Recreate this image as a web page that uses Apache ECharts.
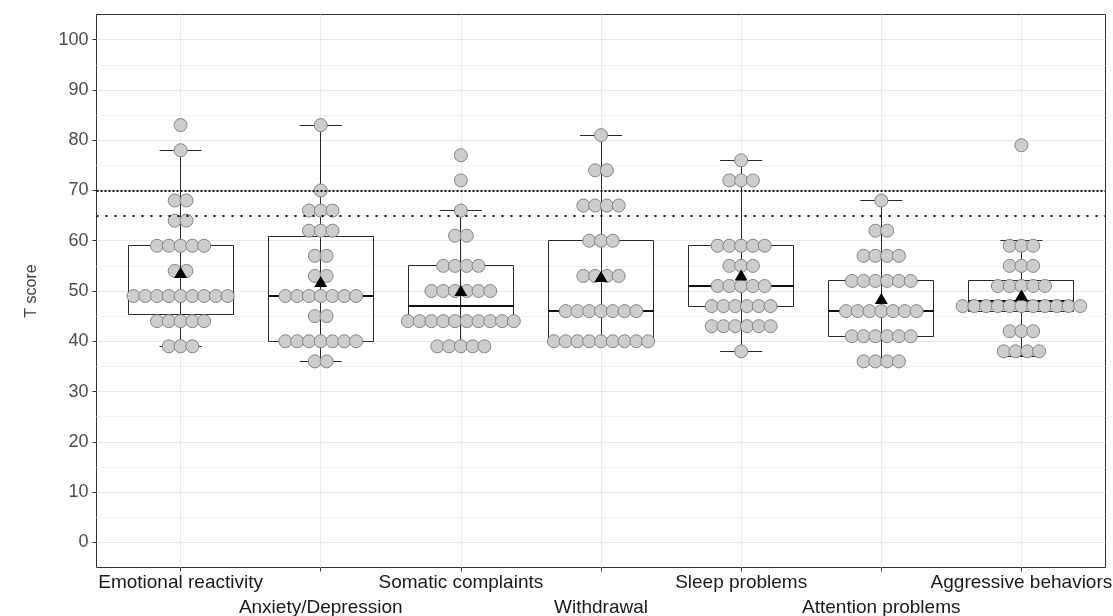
<!DOCTYPE html>
<html>
<head>
<meta charset="utf-8">
<script src="https://cdn.jsdelivr.net/npm/echarts@6/dist/echarts.min.js"></script>
<style>
  html, body { margin: 0; padding: 0; background: #fff; }
  #chart { width: 1113px; height: 616px; }
</style>
</head>
<body>
<div id="chart"></div>
<script>
const categories = ['Emotional reactivity', 'Anxiety/Depression', 'Somatic complaints', 'Withdrawal',
  'Sleep problems', 'Attention problems', 'Aggressive behaviors'];

// individual T scores, one list per scale
const emotionalScores = [83, 78, 68, 68, 64, 64, 59, 59, 59, 59, 59, 54, 54,
  49, 49, 49, 49, 49, 49, 49, 49, 49, 44, 44, 44, 44, 44, 39, 39, 39];
const anxietyScores = [83, 70, 66, 66, 66, 62, 62, 62, 57, 57, 53, 53,
  49, 49, 49, 49, 49, 49, 49, 45, 45, 40, 40, 40, 40, 40, 40, 40, 36, 36];
const somaticScores = [77, 72, 66, 61, 61, 55, 55, 55, 55, 50, 50, 50, 50, 50, 50,
  44, 44, 44, 44, 44, 44, 44, 44, 44, 44, 39, 39, 39, 39, 39];
const withdrawalScores = [81, 74, 74, 67, 67, 67, 67, 60, 60, 60, 53, 53, 53, 53,
  46, 46, 46, 46, 46, 46, 46, 40, 40, 40, 40, 40, 40, 40, 40, 40];
const sleepScores = [76, 72, 72, 72, 59, 59, 59, 59, 59, 55, 55, 55, 51, 51, 51, 51, 51,
  47, 47, 47, 47, 47, 47, 43, 43, 43, 43, 43, 43, 38];
const attentionScores = [68, 62, 62, 57, 57, 57, 57, 52, 52, 52, 52, 52, 52,
  46, 46, 46, 46, 46, 46, 46, 41, 41, 41, 41, 41, 41, 36, 36, 36, 36];
const aggressiveScores = [79, 59, 59, 59, 55, 55, 55, 51, 51, 51, 51, 51,
  47, 47, 47, 47, 47, 47, 47, 47, 47, 47, 47, 42, 42, 42, 38, 38, 38, 38];

// box plot: [lower whisker, Q1, median, Q3, upper whisker]
const boxStats = [
  [39, 45.25, 49, 59, 78],
  [36, 40, 49, 60.75, 83],
  [39, 44, 47, 55, 66],
  [40, 40, 46, 60, 81],
  [38, 47, 51, 59, 76],
  [36, 41, 46, 52, 68],
  [37, 46, 48, 52, 60]
];
const meanScores = [53.7, 51.9, 50.1, 52.9, 53.2, 48.5, 49.2];
const yTicks = [0, 10, 20, 30, 40, 50, 60, 70, 80, 90, 100];
const cutoffs = [70, 65];

const allScores = [emotionalScores, anxietyScores, somaticScores, withdrawalScores,
  sleepScores, attentionScores, aggressiveScores];

// centred dot stacks: equal scores sit side by side
const dotStep = 0.084;
const dotPoints = [];
allScores.forEach((scores, i) => {
  const counts = {};
  scores.forEach(v => { counts[v] = (counts[v] || 0) + 1; });
  Object.keys(counts).forEach(key => {
    const n = counts[key];
    for (let k = 0; k < n; k++) {
      dotPoints.push([i + (k - (n - 1) / 2) * dotStep, Number(key)]);
    }
  });
});

const catIdx = categories.map((_, i) => i);
const evenIdx = catIdx.filter(i => i % 2 === 0);
const oddIdx = catIdx.filter(i => i % 2 === 1);
const fontFamily = '"Liberation Sans", Arial, sans-serif';
// put 1px lines on pixel centres so they stay crisp
const snap = v => Math.round(v - 0.5) + 0.5;

const xLabelStyle = { fontFamily, fontSize: 19, color: '#1a1a1a' };
const noLine = { show: false, onZero: false };

const chart = echarts.init(document.getElementById('chart'));

const option = {
  animation: false,
  backgroundColor: '#fff',
  grid: {
    left: 96.5, right: 7.5, top: 14.5, bottom: 48.5,
    outerBoundsMode: 'none',
    containLabel: false,
    show: true, borderColor: '#333', borderWidth: 1, backgroundColor: '#fff'
  },
  xAxis: [
    {
      // ticks + first row of labels
      type: 'value', min: -0.6, max: 6.6, position: 'bottom',
      axisLine: noLine,
      splitLine: { show: false },
      axisTick: { customValues: catIdx, length: 4, lineStyle: { color: '#333' } },
      axisLabel: Object.assign({
        customValues: evenIdx, showMinLabel: true, showMaxLabel: true,
        formatter: v => categories[Math.round(v)], margin: 6
      }, xLabelStyle)
    },
    {
      // second, staggered row of labels
      type: 'value', min: -0.6, max: 6.6, position: 'bottom',
      axisLine: noLine,
      splitLine: { show: false },
      axisTick: { show: false },
      axisLabel: Object.assign({
        customValues: oddIdx, showMinLabel: true, showMaxLabel: true,
        formatter: v => categories[Math.round(v)], margin: 31
      }, xLabelStyle)
    }
  ],
  yAxis: [
    {
      // grid lines: majors every 10, lighter minors in between
      type: 'value', min: -5, max: 105, interval: 5, position: 'left',
      axisLine: noLine, axisTick: { show: false }, axisLabel: { show: false },
      splitLine: {
        showMinLine: false, showMaxLine: false,
        lineStyle: { color: ['#e8e8e8', '#f4f4f4'], width: 1 }
      }
    },
    {
      type: 'value', min: -5, max: 105, interval: 5, position: 'left',
      name: 'T score', nameLocation: 'middle', nameRotate: 90, nameGap: 57,
      nameTextStyle: { fontFamily, fontSize: 16, color: '#444' },
      axisLine: noLine,
      splitLine: { show: false },
      axisTick: { customValues: yTicks, length: 4, lineStyle: { color: '#333' } },
      axisLabel: { customValues: yTicks, fontFamily, fontSize: 18, color: '#4d4d4d', margin: 8 }
    }
  ],
  series: [
    {
      // vertical grid lines at each scale
      type: 'line', data: [], z: 1, silent: true,
      markLine: {
        z: 1,
        silent: true, symbol: 'none', label: { show: false },
        lineStyle: { color: '#ebebeb', width: 1, type: 'solid' },
        data: catIdx.map(i => ({ xAxis: i }))
      }
    },
    {
      type: 'custom',
      z: 2,
      silent: true,
      data: boxStats.map((b, i) => [i].concat(b)),
      encode: { x: 0, y: [1, 2, 3, 4, 5] },
      renderItem(params, api) {
        const x = api.value(0);
        const lo = api.value(1), q1 = api.value(2), med = api.value(3), q3 = api.value(4), hi = api.value(5);
        const p = (dx, v) => api.coord([x + dx, v]);
        const stroke = { stroke: '#2a2a2a', lineWidth: 1, fill: null };
        const cx = snap(p(0, lo)[0]);
        const hLine = (dx, v, style) => {
          const y = snap(p(0, v)[1]);
          return { type: 'line', shape: { x1: p(-dx, v)[0], y1: y, x2: p(dx, v)[0], y2: y }, style };
        };
        const left = snap(p(-0.375, q3)[0]), right = snap(p(0.375, q3)[0]);
        const top = snap(p(0, q3)[1]), bottom = snap(p(0, q1)[1]);
        const medY = Math.round(p(0, med)[1]);
        return {
          type: 'group',
          children: [
            { type: 'line', shape: { x1: cx, y1: snap(p(0, lo)[1]), x2: cx, y2: snap(p(0, hi)[1]) }, style: stroke },
            hLine(0.15, lo, stroke),
            hLine(0.15, hi, stroke),
            {
              type: 'rect',
              shape: { x: left, y: top, width: right - left, height: bottom - top },
              style: { fill: 'none', stroke: '#2a2a2a', lineWidth: 1 }
            },
            { type: 'line', shape: { x1: left, y1: medY, x2: right, y2: medY }, style: { stroke: '#111', lineWidth: 2 } }
          ]
        };
      }
    },
    {
      type: 'scatter',
      z: 3,
      symbol: 'circle',
      symbolSize: 13,
      itemStyle: { color: '#cdcdcd', borderColor: '#858585', borderWidth: 1, opacity: 1 },
      data: dotPoints
    },
    {
      type: 'scatter',
      z: 4,
      symbol: 'triangle',
      symbolSize: [13, 11],
      itemStyle: { color: '#000', opacity: 1 },
      data: meanScores.map((m, i) => [i, m])
    },
    {
      // cut-off lines
      type: 'line', data: [], z: 5, silent: true,
      markLine: {
        z: 5,
        silent: true, symbol: 'none', label: { show: false },
        lineStyle: { color: '#111', width: 2 },
        data: [
          { yAxis: cutoffs[0], lineStyle: { type: [2, 2] } },
          { yAxis: cutoffs[1], lineStyle: { type: [2, 7] } }
        ]
      }
    }
  ]
};

chart.setOption(option);
window.addEventListener('resize', () => chart.resize());
</script>
</body>
</html>
